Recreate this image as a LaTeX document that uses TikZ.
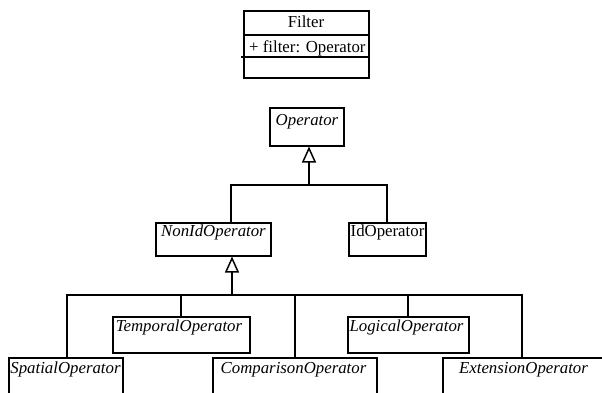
\documentclass[tikz,border=0pt]{standalone}
\usepackage{fontspec}
\setmainfont{Liberation Serif}
\usetikzlibrary{arrows.meta}
\begin{document}
\begin{tikzpicture}[x=1pt,y=-1pt,
  umlbox/.style={draw,line width=1.5pt,fill=white,inner sep=0pt,anchor=north west},
  lbl/.style={inner sep=0pt,anchor=base,font=\fontsize{16.8}{20}\selectfont},
  ilbl/.style={lbl,font=\fontsize{16.8}{20}\selectfont\itshape},
  wire/.style={line width=1.5pt},
  inherit/.style={wire,-{Triangle[open,length=16pt,width=14pt,line width=1.5pt,fill=white]}}]
\useasboundingbox (0,0) rectangle (602,392);
\clip (0,0) rectangle (602,392);
\fill[white] (0,0) rectangle (602,392);

% Filter class with three compartments
\node[umlbox,minimum width=125pt,minimum height=67pt] (filter) at (243,10) {};
\draw[wire] (filter.west |- 0,35) -- (filter.east |- 0,35);
\draw[wire] (241,57) -- (filter.east |- 0,57);
\node[lbl] (filterName) at (306,27) {Filter};
\node[lbl,anchor=base west] (filterAttr) at (249,52) {+ filter: Operator};

% Operator hierarchy
\node[umlbox,minimum width=74pt,minimum height=38pt] (op) at (269,107) {};
\node[ilbl] (opName) at (307,125) {Operator};
\node[umlbox,minimum width=115pt,minimum height=33pt] (nonid) at (155,222) {};
\node[ilbl] (nonidName) at (213.5,236) {NonIdOperator};
\node[umlbox,minimum width=77pt,minimum height=33pt] (idop) at (348,222) {};
\node[lbl] (idName) at (387.5,236) {IdOperator};

\coordinate (j1) at (309,185);
\coordinate (d1) at (231,185);
\coordinate (d2) at (387,185);
\draw[wire] (d1 |- nonid.north) -- (d1) -- (d2) -- (d2 |- idop.north);
\draw[inherit] (j1) -- (j1 |- op.south);

% Operator subclasses
\node[umlbox,minimum width=137pt,minimum height=36pt] (temporal) at (112,316) {};
\node[ilbl] (temporalName) at (179,331) {TemporalOperator};
\node[umlbox,minimum width=121pt,minimum height=36pt] (logical) at (347,316) {};
\node[ilbl] (logicalName) at (406.5,331) {LogicalOperator};
\node[umlbox,minimum width=114pt,minimum height=50pt] (spatial) at (8,357) {};
\node[ilbl] (spatialName) at (65.5,373) {SpatialOperator};
\node[umlbox,minimum width=164pt,minimum height=50pt] (comparison) at (212,357) {};
\node[ilbl] (comparisonName) at (293.5,373) {ComparisonOperator};
\node[umlbox,minimum width=163pt,minimum height=50pt] (extension) at (442,357) {};
\node[ilbl] (extensionName) at (523.5,373) {ExtensionOperator};

\coordinate (j2) at (232,295);
\coordinate (s1) at (67,295);
\coordinate (s2) at (181,295);
\coordinate (s3) at (295,295);
\coordinate (s4) at (408,295);
\coordinate (s5) at (522,295);
\draw[wire] (s1 |- spatial.north) -- (s1) -- (s5) -- (s5 |- extension.north);
\draw[wire] (s2) -- (s2 |- temporal.north);
\draw[wire] (s3) -- (s3 |- comparison.north);
\draw[wire] (s4) -- (s4 |- logical.north);
\draw[inherit] (j2) -- (j2 |- nonid.south);
\end{tikzpicture}
\end{document}
